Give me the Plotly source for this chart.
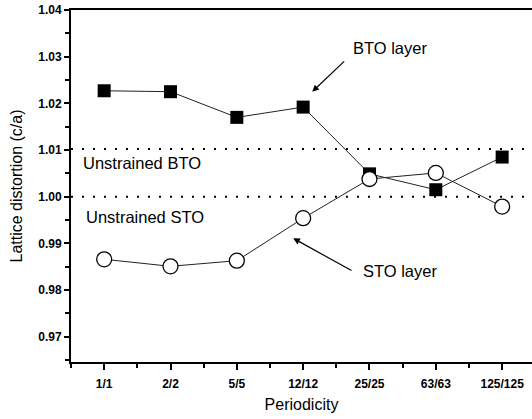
import plotly.graph_objects as go

periods = ["1/1", "2/2", "5/5", "12/12", "25/25", "63/63", "125/125"]
bto = [1.0227, 1.0225, 1.0170, 1.0192, 1.0049, 1.0015, 1.0085]
sto = [0.9866, 0.9851, 0.9863, 0.9954, 1.0038, 1.0051, 0.9979]
unstrained_levels = [1.0102, 1.0000]
unstrained_names = ["Unstrained BTO", "Unstrained STO"]
y_ticks = [0.97, 0.98, 0.99, 1.00, 1.01, 1.02, 1.03, 1.04]

xi = list(range(len(periods)))
FONT = "Liberation Sans, Arial, sans-serif"

fig = go.Figure()
fig.add_trace(go.Scatter(
    x=xi, y=bto, mode="lines+markers", name="BTO layer",
    line=dict(color="#222", width=1),
    marker=dict(symbol="square", size=13, color="black", line=dict(color="black", width=0)),
))
fig.add_trace(go.Scatter(
    x=xi, y=sto, mode="lines+markers", name="STO layer",
    line=dict(color="#222", width=1),
    marker=dict(symbol="circle", size=15, color="white", line=dict(color="black", width=1.3)),
))

for lvl in unstrained_levels:
    fig.add_shape(type="line", xref="paper", x0=0, x1=1, yref="y", y0=lvl, y1=lvl,
                  line=dict(color="black", width=2, dash="2px,9px"), layer="below")

fig.add_annotation(x=-0.345, y=1.0072, xref="x", yref="y", text=unstrained_names[0],
                   showarrow=False, xanchor="left", font=dict(family=FONT, size=16.5, color="black"))
fig.add_annotation(x=-0.31, y=0.9956, xref="x", yref="y", text=unstrained_names[1],
                   showarrow=False, xanchor="left", font=dict(family=FONT, size=16.5, color="black"))

fig.add_annotation(x=4.31, y=1.0318, xref="x", yref="y", text="BTO layer",
                   showarrow=False, font=dict(family=FONT, size=16.5, color="black"))
fig.add_annotation(x=4.46, y=0.9841, xref="x", yref="y", text="STO layer",
                   showarrow=False, font=dict(family=FONT, size=16.5, color="black"))

# arrows
fig.add_annotation(x=3.137, y=1.0225, ax=3.641, ay=1.0293, xref="x", yref="y",
                   axref="x", ayref="y", text="", showarrow=True,
                   arrowhead=2, arrowsize=1.1, arrowwidth=1.2, arrowcolor="black")
fig.add_annotation(x=2.851, y=0.9911, ax=3.751, ay=0.9840, xref="x", yref="y",
                   axref="x", ayref="y", text="", showarrow=True,
                   arrowhead=2, arrowsize=1.1, arrowwidth=1.2, arrowcolor="black")

fig.update_layout(
    width=532, height=419,
    margin=dict(l=71, r=0, t=10, b=57, autoexpand=False),
    paper_bgcolor="white", plot_bgcolor="white",
    showlegend=False,
    font=dict(family=FONT, color="black"),
)
fig.update_xaxes(
    automargin=False,
    range=[-0.5, 6.45],
    tickvals=xi, ticktext=periods,
    tickfont=dict(family=FONT, size=12, color="black", weight="bold"),
    ticks="outside", ticklen=6, tickwidth=1.5, tickcolor="black",
    ticklabelstandoff=4,
    minor=dict(tickvals=[i + 0.5 for i in range(-1, len(periods))], ticks="outside",
               ticklen=4, tickwidth=1.5, tickcolor="black"),
    showline=True, linecolor="black", linewidth=2, mirror=True,
    showgrid=False, zeroline=False,
    title=dict(text="Periodicity", font=dict(family=FONT, size=16, color="black"), standoff=8),
)
fig.update_yaxes(
    automargin=False,
    range=[0.9646, 1.04],
    tickvals=y_ticks, ticktext=[f"{v:.2f}" for v in y_ticks],
    tickfont=dict(family=FONT, size=12, color="black", weight="bold"),
    ticks="outside", ticklen=5, tickwidth=1.5, tickcolor="black",
    minor=dict(dtick=0.005, ticks="outside", ticklen=4, tickwidth=1.5, tickcolor="black"),
    showline=True, linecolor="black", linewidth=2, mirror=False,
    showgrid=False, zeroline=False,
    title=dict(text="Lattice distortion (c/a)", font=dict(family=FONT, size=16, color="black"), standoff=12),
)

fig.write_html("out.html", config={"displayModeBar": False},
               post_script="document.body.style.margin='0';document.body.style.overflow='hidden';")
